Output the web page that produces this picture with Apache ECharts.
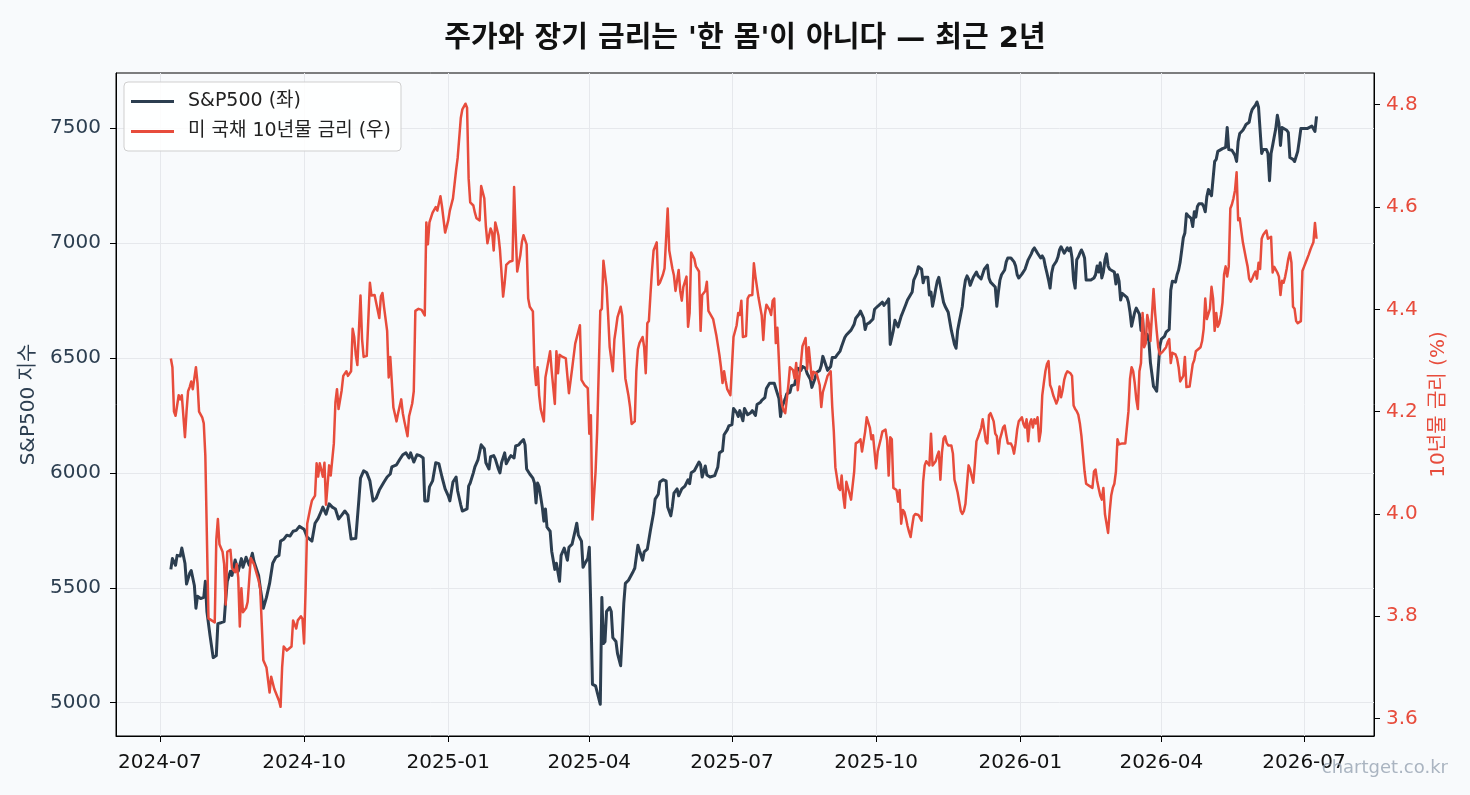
<!DOCTYPE html>
<html lang="ko">
<head>
<meta charset="utf-8">
<title>주가와 장기 금리</title>
<script src="https://cdn.jsdelivr.net/npm/echarts@6/dist/echarts.min.js"></script>
<style>
  html, body { margin: 0; padding: 0; background: #f8fafc; }
  #main { width: 1470px; height: 795px; }
</style>
</head>
<body>
<div id="main"></div>
<script>
// S&P500 종가 (읽은 값)
var spxDates = [
  '2024-07-08','2024-07-09','2024-07-11','2024-07-12','2024-07-14','2024-07-15','2024-07-17','2024-07-18','2024-07-20','2024-07-21','2024-07-23','2024-07-24','2024-07-25','2024-07-27','2024-07-29','2024-07-30','2024-07-31',
  '2024-08-02','2024-08-04','2024-08-06','2024-08-07','2024-08-09','2024-08-11','2024-08-12','2024-08-13','2024-08-15','2024-08-16','2024-08-18','2024-08-20','2024-08-22','2024-08-23','2024-08-25','2024-08-27','2024-08-29','2024-08-30',
  '2024-09-02','2024-09-03','2024-09-05','2024-09-07','2024-09-09','2024-09-11','2024-09-13','2024-09-15','2024-09-16','2024-09-18','2024-09-20','2024-09-22','2024-09-24','2024-09-26','2024-09-28',
  '2024-10-01','2024-10-03','2024-10-06','2024-10-08','2024-10-10','2024-10-12','2024-10-13','2024-10-15','2024-10-17','2024-10-19','2024-10-21','2024-10-23','2024-10-25','2024-10-27','2024-10-29','2024-10-31',
  '2024-11-01','2024-11-03','2024-11-05','2024-11-06','2024-11-08','2024-11-10','2024-11-12','2024-11-14','2024-11-16','2024-11-18','2024-11-21','2024-11-23','2024-11-25','2024-11-26','2024-11-29',
  '2024-12-01','2024-12-03','2024-12-05','2024-12-07','2024-12-08','2024-12-10','2024-12-12','2024-12-14','2024-12-16','2024-12-17','2024-12-19','2024-12-20','2024-12-22','2024-12-24','2024-12-26','2024-12-28','2024-12-30',
  '2025-01-01','2025-01-02','2025-01-04','2025-01-06','2025-01-07','2025-01-09','2025-01-10','2025-01-13','2025-01-14','2025-01-15','2025-01-17','2025-01-18','2025-01-20','2025-01-22','2025-01-24','2025-01-25','2025-01-27','2025-01-28','2025-01-30','2025-01-31',
  '2025-02-02','2025-02-03','2025-02-04','2025-02-06','2025-02-07','2025-02-09','2025-02-10','2025-02-12','2025-02-13','2025-02-15','2025-02-16','2025-02-18','2025-02-19','2025-02-20','2025-02-22','2025-02-24','2025-02-25','2025-02-26','2025-02-27','2025-02-28',
  '2025-03-02','2025-03-03','2025-03-04','2025-03-05','2025-03-07','2025-03-08','2025-03-10','2025-03-11','2025-03-13','2025-03-14','2025-03-16','2025-03-17','2025-03-18','2025-03-19','2025-03-21','2025-03-23','2025-03-24','2025-03-25','2025-03-27','2025-03-28','2025-03-29','2025-03-31',
  '2025-04-01','2025-04-02','2025-04-03','2025-04-05','2025-04-06','2025-04-08','2025-04-09','2025-04-10','2025-04-11','2025-04-12','2025-04-14','2025-04-15','2025-04-16','2025-04-18','2025-04-19','2025-04-21','2025-04-22','2025-04-23','2025-04-24','2025-04-26','2025-04-27','2025-04-29','2025-04-30',
  '2025-05-02','2025-05-03','2025-05-05','2025-05-06','2025-05-08','2025-05-09','2025-05-10','2025-05-12','2025-05-13','2025-05-15','2025-05-16','2025-05-18','2025-05-20','2025-05-21','2025-05-23','2025-05-24','2025-05-25','2025-05-27','2025-05-28','2025-05-30',
  '2025-06-01','2025-06-03','2025-06-04','2025-06-05','2025-06-07','2025-06-08','2025-06-10','2025-06-11','2025-06-12','2025-06-14','2025-06-15','2025-06-17','2025-06-18','2025-06-20','2025-06-22','2025-06-23','2025-06-25','2025-06-26','2025-06-28','2025-06-29',
  '2025-07-01','2025-07-02','2025-07-04','2025-07-05','2025-07-06','2025-07-08','2025-07-09','2025-07-11','2025-07-13','2025-07-14','2025-07-16','2025-07-17','2025-07-19','2025-07-20','2025-07-22','2025-07-23','2025-07-25','2025-07-26','2025-07-28','2025-07-29','2025-07-31',
  '2025-08-01','2025-08-02','2025-08-04','2025-08-05','2025-08-07','2025-08-08','2025-08-10','2025-08-11','2025-08-12','2025-08-14','2025-08-15','2025-08-17','2025-08-18','2025-08-20','2025-08-21','2025-08-23','2025-08-24','2025-08-26','2025-08-27','2025-08-28','2025-08-30','2025-08-31',
  '2025-09-02','2025-09-03','2025-09-05','2025-09-06','2025-09-08','2025-09-09','2025-09-11','2025-09-12','2025-09-13','2025-09-15','2025-09-16','2025-09-17','2025-09-18','2025-09-20','2025-09-21','2025-09-23','2025-09-24','2025-09-25','2025-09-27','2025-09-29','2025-09-30',
  '2025-10-02','2025-10-03','2025-10-05','2025-10-06','2025-10-08','2025-10-09','2025-10-10','2025-10-12','2025-10-13','2025-10-14','2025-10-15','2025-10-17','2025-10-18','2025-10-20','2025-10-21','2025-10-22','2025-10-24','2025-10-25','2025-10-27','2025-10-28','2025-10-30','2025-10-31',
  '2025-11-01','2025-11-02','2025-11-03','2025-11-04','2025-11-05','2025-11-06','2025-11-07','2025-11-08','2025-11-09','2025-11-10','2025-11-11','2025-11-13','2025-11-14','2025-11-16','2025-11-17','2025-11-18','2025-11-19','2025-11-20','2025-11-21','2025-11-22','2025-11-23','2025-11-24','2025-11-25','2025-11-26','2025-11-27','2025-11-28','2025-11-29','2025-11-30',
  '2025-12-02','2025-12-04','2025-12-05','2025-12-07','2025-12-08','2025-12-09','2025-12-11','2025-12-12','2025-12-13','2025-12-14','2025-12-16','2025-12-17','2025-12-18','2025-12-19','2025-12-20','2025-12-22','2025-12-23','2025-12-24','2025-12-26','2025-12-28','2025-12-29','2025-12-30','2025-12-31',
  '2026-01-02','2026-01-04','2026-01-06','2026-01-07','2026-01-08','2026-01-09','2026-01-10','2026-01-11','2026-01-12','2026-01-14','2026-01-15','2026-01-16','2026-01-17','2026-01-18','2026-01-19','2026-01-20','2026-01-21','2026-01-22','2026-01-24','2026-01-25','2026-01-26','2026-01-27','2026-01-29','2026-01-30','2026-01-31',
  '2026-02-01','2026-02-02','2026-02-03','2026-02-04','2026-02-05','2026-02-06','2026-02-07','2026-02-08','2026-02-09','2026-02-10','2026-02-11','2026-02-12','2026-02-13','2026-02-15','2026-02-17','2026-02-18','2026-02-19','2026-02-20','2026-02-21','2026-02-22','2026-02-23','2026-02-24','2026-02-25','2026-02-26','2026-02-27','2026-02-28',
  '2026-03-02','2026-03-03','2026-03-04','2026-03-05','2026-03-06','2026-03-07','2026-03-08','2026-03-10','2026-03-11','2026-03-12','2026-03-13','2026-03-14','2026-03-15','2026-03-16','2026-03-18','2026-03-19','2026-03-20','2026-03-21','2026-03-22','2026-03-23','2026-03-24','2026-03-25','2026-03-27','2026-03-28','2026-03-29','2026-03-30','2026-03-31',
  '2026-04-01','2026-04-03','2026-04-04','2026-04-06','2026-04-07','2026-04-08','2026-04-10','2026-04-11','2026-04-12','2026-04-13','2026-04-14','2026-04-15','2026-04-16','2026-04-17','2026-04-18','2026-04-19','2026-04-20','2026-04-21','2026-04-22','2026-04-23','2026-04-24','2026-04-25','2026-04-27','2026-04-28','2026-04-29','2026-04-30',
  '2026-05-01','2026-05-02','2026-05-03','2026-05-04','2026-05-05','2026-05-06','2026-05-07','2026-05-08','2026-05-10','2026-05-11','2026-05-12','2026-05-13','2026-05-14','2026-05-16','2026-05-17','2026-05-18','2026-05-19','2026-05-20','2026-05-21','2026-05-23','2026-05-24','2026-05-25','2026-05-27','2026-05-28','2026-05-29','2026-05-30','2026-05-31',
  '2026-06-01','2026-06-02','2026-06-03','2026-06-04','2026-06-05','2026-06-06','2026-06-07','2026-06-08','2026-06-09','2026-06-10','2026-06-11','2026-06-12','2026-06-13','2026-06-14','2026-06-15','2026-06-16','2026-06-17','2026-06-18','2026-06-20','2026-06-21','2026-06-22','2026-06-24','2026-06-25','2026-06-27','2026-06-28','2026-06-29',
  '2026-07-01','2026-07-02','2026-07-03','2026-07-04','2026-07-06','2026-07-07','2026-07-08','2026-07-09'
];
var spxValues = [
  5580,5627,5598,5641,5638,5673,5607,5516,5563,5575,5510,5411,5463,5453,5458,5528,5397,
  5292,5196,5205,5344,5348,5353,5449,5528,5572,5554,5621,5572,5627,5589,5633,5598,5650,5615,
  5554,5502,5411,5458,5519,5607,5633,5641,5703,5711,5729,5725,5746,5750,5767,
  5755,5720,5703,5781,5802,5834,5851,5820,5865,5851,5843,5799,5816,5834,5816,5712,
  5720,5715,5886,5977,6009,6000,5965,5878,5890,5925,5960,5982,5995,6026,6035,
  6058,6079,6087,6065,6087,6047,6079,6075,6065,5878,5878,5939,5965,6044,6040,5982,5930,
  5900,5878,5960,5982,5921,5860,5834,5843,5942,5956,6000,6026,6058,6122,6105,6044,6017,6070,6075,6061,
  6017,6000,6044,6087,6040,6065,6075,6065,6117,6122,6131,6145,6122,6017,5995,5977,5956,5869,5956,5939,
  5851,5790,5843,5764,5746,5659,5580,5607,5528,5641,5673,5680,5620,5676,5690,5750,5781,5729,5703,5589,5603,5627,
  5676,5400,5080,5073,5065,4993,5458,5257,5266,5397,5414,5397,5283,5266,5213,5161,5292,5432,5519,5533,5536,5571,5585,
  5685,5662,5620,5656,5668,5676,5750,5825,5886,5907,5960,5970,5965,5851,5813,5855,5912,5930,5900,5930,
  5942,5970,5953,6000,6009,6012,6047,6035,5982,6030,5991,5982,5974,5988,6026,6087,6096,6166,6187,6204,
  6210,6280,6262,6245,6271,6227,6280,6253,6262,6271,6250,6297,6306,6315,6327,6367,6390,6397,6390,6367,6323,
  6245,6288,6323,6344,6350,6379,6384,6376,6455,6446,6463,6455,6432,6407,6372,6411,6437,6446,6467,6507,6467,6446,
  6463,6502,6502,6512,6530,6551,6589,6600,6603,6621,6621,6647,6673,6690,6704,6673,6624,6647,6655,6670,6712,
  6725,6729,6743,6729,6746,6757,6559,6620,6664,6670,6635,6682,6699,6734,6752,6746,6787,6839,6869,6897,6886,6827,
  6851,6857,6851,6774,6787,6725,6760,6799,6834,6851,6857,6743,6725,6699,6659,6620,6617,6559,6542,6620,6656,6690,6725,6795,6839,6857,6844,6816,
  6851,6874,6857,6844,6839,6886,6904,6848,6830,6822,6809,6725,6787,6839,6862,6883,6918,6935,6935,6918,6900,6862,6848,
  6865,6886,6927,6927,6953,6970,6979,6967,6956,6935,6944,6932,6897,6869,6839,6804,6869,6900,6921,6939,6970,6984,6956,6949,6979,
  6967,6979,6935,6839,6804,6927,6939,6956,6970,6956,6935,6839,6834,6839,6848,6862,6900,6874,6914,6848,6874,6927,6953,6900,6886,6879,
  6874,6822,6862,6834,6752,6781,6778,6764,6743,6699,6638,6670,6699,6717,6690,6620,6673,6568,6577,6603,6577,6481,6376,6367,6355,6350,6551,
  6582,6594,6612,6624,6795,6834,6830,6862,6883,6918,6970,7023,7044,7128,7119,7113,7107,7072,7136,7113,7159,7171,7171,7159,7136,7201,
  7233,7219,7206,7212,7355,7364,7399,7407,7411,7411,7416,7503,7407,7404,7393,7381,7355,7442,7477,7491,7503,7516,7526,7561,7582,7591,7600,
  7614,7591,7591,7390,7407,7399,7407,7390,7271,7390,7425,7463,7498,7556,7521,7425,7503,7495,7491,7481,7372,7364,7355,7399,7446,7498,
  7498,7495,7498,7503,7509,7516,7486,7551
];

// 미 국채 10년물 금리 (%)
var yieldDates = [
  '2024-07-08','2024-07-09','2024-07-10','2024-07-11','2024-07-13','2024-07-14','2024-07-15','2024-07-17','2024-07-18','2024-07-19','2024-07-20','2024-07-21','2024-07-22','2024-07-24','2024-07-25','2024-07-26','2024-07-28','2024-07-29','2024-07-30',
  '2024-08-01','2024-08-03','2024-08-05','2024-08-06','2024-08-07','2024-08-08','2024-08-10','2024-08-11','2024-08-12','2024-08-13','2024-08-15','2024-08-16','2024-08-18','2024-08-19','2024-08-20','2024-08-21','2024-08-22','2024-08-23','2024-08-25','2024-08-26','2024-08-28','2024-08-30',
  '2024-09-02','2024-09-03','2024-09-05','2024-09-07','2024-09-09','2024-09-10','2024-09-12','2024-09-13','2024-09-15','2024-09-16','2024-09-17','2024-09-18','2024-09-20','2024-09-23','2024-09-24','2024-09-26','2024-09-27','2024-09-29','2024-09-30',
  '2024-10-01','2024-10-02','2024-10-03','2024-10-05','2024-10-06','2024-10-08','2024-10-09','2024-10-10','2024-10-11','2024-10-13','2024-10-14','2024-10-15','2024-10-17','2024-10-18','2024-10-20','2024-10-21','2024-10-22','2024-10-23','2024-10-25','2024-10-26','2024-10-28','2024-10-29','2024-10-31',
  '2024-11-01','2024-11-02','2024-11-03','2024-11-04','2024-11-06','2024-11-07','2024-11-08','2024-11-10','2024-11-12','2024-11-13','2024-11-15','2024-11-16','2024-11-18','2024-11-19','2024-11-20','2024-11-21','2024-11-23','2024-11-24','2024-11-25','2024-11-27','2024-11-29','2024-11-30',
  '2024-12-02','2024-12-03','2024-12-04','2024-12-06','2024-12-07','2024-12-09','2024-12-10','2024-12-11','2024-12-13','2024-12-15','2024-12-17','2024-12-18','2024-12-19','2024-12-20','2024-12-22','2024-12-24','2024-12-25','2024-12-27','2024-12-28','2024-12-30',
  '2025-01-01','2025-01-02','2025-01-04','2025-01-06','2025-01-07','2025-01-09','2025-01-10','2025-01-12','2025-01-13','2025-01-14','2025-01-15','2025-01-17','2025-01-18','2025-01-19','2025-01-21','2025-01-22','2025-01-24','2025-01-25','2025-01-26','2025-01-28','2025-01-29','2025-01-30','2025-01-31',
  '2025-02-01','2025-02-02','2025-02-03','2025-02-05','2025-02-06','2025-02-07','2025-02-09','2025-02-11','2025-02-12','2025-02-13','2025-02-14','2025-02-16','2025-02-17','2025-02-18','2025-02-20','2025-02-21','2025-02-22','2025-02-24','2025-02-25','2025-02-26','2025-02-27','2025-02-28',
  '2025-03-01','2025-03-03','2025-03-04','2025-03-06','2025-03-07','2025-03-08','2025-03-10','2025-03-11','2025-03-12','2025-03-13','2025-03-15','2025-03-17','2025-03-18','2025-03-19','2025-03-21','2025-03-23','2025-03-24','2025-03-26','2025-03-27','2025-03-29','2025-03-31',
  '2025-04-01','2025-04-02','2025-04-03','2025-04-05','2025-04-06','2025-04-08','2025-04-09','2025-04-10','2025-04-12','2025-04-13','2025-04-14','2025-04-16','2025-04-17','2025-04-18','2025-04-19','2025-04-21','2025-04-22','2025-04-24','2025-04-26','2025-04-27','2025-04-28','2025-04-30',
  '2025-05-01','2025-05-02','2025-05-03','2025-05-05','2025-05-06','2025-05-07','2025-05-08','2025-05-09','2025-05-10','2025-05-11','2025-05-12','2025-05-14','2025-05-15','2025-05-16','2025-05-18','2025-05-19','2025-05-21','2025-05-22','2025-05-24','2025-05-25','2025-05-26','2025-05-28','2025-05-29','2025-05-30','2025-05-31',
  '2025-06-02','2025-06-03','2025-06-04','2025-06-05','2025-06-07','2025-06-08','2025-06-10','2025-06-11','2025-06-12','2025-06-14','2025-06-15','2025-06-16','2025-06-17','2025-06-19','2025-06-21','2025-06-23','2025-06-24','2025-06-25','2025-06-26','2025-06-27','2025-06-28','2025-06-30',
  '2025-07-01','2025-07-02','2025-07-04','2025-07-05','2025-07-06','2025-07-07','2025-07-08','2025-07-10','2025-07-11','2025-07-12','2025-07-14','2025-07-15','2025-07-16','2025-07-17','2025-07-18','2025-07-20','2025-07-21','2025-07-22','2025-07-23','2025-07-25','2025-07-26','2025-07-27','2025-07-28','2025-07-29','2025-07-30','2025-07-31',
  '2025-08-01','2025-08-02','2025-08-03','2025-08-04','2025-08-05','2025-08-06','2025-08-07','2025-08-09','2025-08-10','2025-08-11','2025-08-12','2025-08-13','2025-08-14','2025-08-15','2025-08-16','2025-08-17','2025-08-18','2025-08-19','2025-08-20','2025-08-21','2025-08-22','2025-08-24','2025-08-25','2025-08-26','2025-08-27','2025-08-28','2025-08-30','2025-08-31',
  '2025-09-02','2025-09-03','2025-09-04','2025-09-05','2025-09-06','2025-09-07','2025-09-08','2025-09-09','2025-09-10','2025-09-11','2025-09-12','2025-09-13','2025-09-14','2025-09-15','2025-09-17','2025-09-18','2025-09-20','2025-09-21','2025-09-22','2025-09-24','2025-09-25','2025-09-27','2025-09-28','2025-09-29','2025-09-30',
  '2025-10-01','2025-10-02','2025-10-04','2025-10-05','2025-10-06','2025-10-07','2025-10-08','2025-10-09','2025-10-10','2025-10-11','2025-10-12','2025-10-13','2025-10-14','2025-10-15','2025-10-16','2025-10-17','2025-10-18','2025-10-19','2025-10-20','2025-10-21','2025-10-22','2025-10-23','2025-10-24','2025-10-25','2025-10-26','2025-10-28','2025-10-29','2025-10-30','2025-10-31',
  '2025-11-01','2025-11-02','2025-11-03','2025-11-04','2025-11-05','2025-11-06','2025-11-07','2025-11-08','2025-11-09','2025-11-10','2025-11-11','2025-11-12','2025-11-13','2025-11-14','2025-11-15','2025-11-16','2025-11-18','2025-11-19','2025-11-20','2025-11-21','2025-11-22','2025-11-24','2025-11-25','2025-11-26','2025-11-27','2025-11-28','2025-11-29','2025-11-30',
  '2025-12-02','2025-12-03','2025-12-04','2025-12-05','2025-12-07','2025-12-08','2025-12-09','2025-12-10','2025-12-11','2025-12-12','2025-12-13','2025-12-14','2025-12-15','2025-12-16','2025-12-17','2025-12-18','2025-12-19','2025-12-20','2025-12-21','2025-12-22','2025-12-23','2025-12-24','2025-12-26','2025-12-27','2025-12-28','2025-12-29','2025-12-30','2025-12-31',
  '2026-01-02','2026-01-03','2026-01-04','2026-01-05','2026-01-06','2026-01-07','2026-01-08','2026-01-09','2026-01-10','2026-01-11','2026-01-12','2026-01-13','2026-01-14','2026-01-15','2026-01-16','2026-01-17','2026-01-18','2026-01-19','2026-01-20','2026-01-21','2026-01-22','2026-01-23','2026-01-24','2026-01-25','2026-01-26','2026-01-27','2026-01-28','2026-01-29','2026-01-30','2026-01-31',
  '2026-02-02','2026-02-03','2026-02-04','2026-02-05','2026-02-06','2026-02-07','2026-02-08','2026-02-09','2026-02-10','2026-02-11','2026-02-12','2026-02-14','2026-02-15','2026-02-16','2026-02-17','2026-02-18','2026-02-19','2026-02-20','2026-02-21','2026-02-22','2026-02-23','2026-02-24','2026-02-26','2026-02-27','2026-02-28',
  '2026-03-01','2026-03-02','2026-03-03','2026-03-04','2026-03-05','2026-03-07','2026-03-08','2026-03-09','2026-03-11','2026-03-12','2026-03-13','2026-03-14','2026-03-15','2026-03-16','2026-03-17','2026-03-18','2026-03-19','2026-03-20','2026-03-21','2026-03-22','2026-03-23','2026-03-24','2026-03-25','2026-03-27','2026-03-28','2026-03-29','2026-03-30','2026-03-31',
  '2026-04-01','2026-04-02','2026-04-04','2026-04-05','2026-04-06','2026-04-07','2026-04-08','2026-04-09','2026-04-10','2026-04-11','2026-04-12','2026-04-13','2026-04-14','2026-04-15','2026-04-16','2026-04-17','2026-04-18','2026-04-19','2026-04-20','2026-04-21','2026-04-22','2026-04-23','2026-04-24','2026-04-26','2026-04-27','2026-04-28','2026-04-29','2026-04-30',
  '2026-05-01','2026-05-02','2026-05-03','2026-05-04','2026-05-05','2026-05-06','2026-05-07','2026-05-08','2026-05-09','2026-05-10','2026-05-11','2026-05-12','2026-05-13','2026-05-14','2026-05-15','2026-05-16','2026-05-17','2026-05-18','2026-05-19','2026-05-20','2026-05-21','2026-05-22','2026-05-23','2026-05-24','2026-05-25','2026-05-26','2026-05-27','2026-05-28','2026-05-29','2026-05-30','2026-05-31',
  '2026-06-01','2026-06-02','2026-06-03','2026-06-04','2026-06-05','2026-06-06','2026-06-07','2026-06-08','2026-06-10','2026-06-11','2026-06-12','2026-06-13','2026-06-14','2026-06-15','2026-06-16','2026-06-17','2026-06-18','2026-06-19','2026-06-20','2026-06-21','2026-06-22','2026-06-23','2026-06-24','2026-06-25','2026-06-26','2026-06-27','2026-06-28','2026-06-29','2026-06-30',
  '2026-07-01','2026-07-02','2026-07-03','2026-07-04','2026-07-05','2026-07-06','2026-07-07','2026-07-08','2026-07-09'
];
var yieldValues = [
  4.304,4.287,4.200,4.192,4.232,4.224,4.232,4.150,4.200,4.240,4.248,4.259,4.244,4.287,4.256,4.200,4.189,4.177,4.114,
  3.796,3.792,3.788,3.950,3.990,3.941,3.926,3.902,3.823,3.926,3.930,3.894,3.886,3.902,3.875,3.780,3.855,3.808,3.816,3.828,3.914,3.902,
  3.870,3.855,3.714,3.700,3.651,3.682,3.658,3.660,3.635,3.623,3.700,3.741,3.733,3.741,3.792,3.776,3.792,3.800,3.795,
  3.747,3.855,3.981,4.012,4.026,4.036,4.099,4.073,4.099,4.073,4.100,4.018,4.095,4.075,4.138,4.218,4.244,4.205,4.242,4.270,4.279,4.270,4.279,
  4.362,4.346,4.311,4.291,4.427,4.342,4.307,4.309,4.452,4.427,4.428,4.413,4.383,4.425,4.432,4.405,4.358,4.267,4.307,4.208,4.181,4.197,
  4.224,4.197,4.181,4.152,4.191,4.216,4.240,4.397,4.401,4.399,4.388,4.570,4.527,4.570,4.589,4.600,4.593,4.621,4.601,4.550,
  4.574,4.593,4.617,4.672,4.696,4.774,4.791,4.802,4.794,4.656,4.609,4.603,4.589,4.578,4.574,4.641,4.617,4.562,4.529,4.558,4.550,4.515,4.570,
  4.558,4.545,4.516,4.425,4.452,4.487,4.493,4.495,4.639,4.550,4.474,4.506,4.532,4.545,4.527,4.421,4.405,4.396,4.287,4.252,4.287,4.232,
  4.205,4.181,4.267,4.301,4.318,4.279,4.215,4.318,4.275,4.311,4.307,4.304,4.270,4.236,4.283,4.333,4.330,4.369,4.262,4.252,4.246,
  4.157,4.193,3.989,4.083,4.161,4.397,4.401,4.495,4.444,4.388,4.326,4.279,4.341,4.362,4.385,4.405,4.388,4.265,4.231,4.209,4.176,4.181,
  4.279,4.322,4.334,4.346,4.326,4.275,4.373,4.377,4.428,4.476,4.515,4.531,4.448,4.452,4.468,4.480,4.597,4.515,4.480,4.466,4.436,4.477,4.436,4.417,4.444,
  4.464,4.366,4.393,4.511,4.499,4.484,4.474,4.358,4.428,4.436,4.454,4.397,4.397,4.381,4.350,4.311,4.287,4.256,4.279,4.260,4.244,4.232,
  4.287,4.346,4.369,4.393,4.389,4.417,4.346,4.348,4.421,4.427,4.428,4.490,4.464,4.462,4.422,4.388,4.340,4.389,4.409,4.399,4.389,4.417,4.421,4.334,4.364,4.366,
  4.232,4.212,4.202,4.197,4.224,4.252,4.287,4.281,4.265,4.295,4.242,4.242,4.295,4.328,4.336,4.344,4.283,4.326,4.326,4.263,4.278,4.275,4.275,4.252,4.209,4.238,4.259,4.270,
  4.279,4.209,4.161,4.091,4.071,4.051,4.047,4.075,4.036,4.012,4.063,4.051,4.040,4.028,4.083,4.138,4.142,4.146,4.122,4.161,4.189,4.169,4.146,4.154,4.122,
  4.089,4.122,4.147,4.161,4.160,4.165,4.144,4.075,4.150,4.146,4.051,4.050,4.047,4.024,4.047,3.981,4.008,4.004,3.992,3.977,3.965,3.955,3.977,3.996,4.000,3.998,4.000,3.987,4.063,
  4.095,4.103,4.106,4.095,4.157,4.095,4.095,4.103,4.114,4.122,4.067,4.120,4.147,4.152,4.139,4.134,4.134,4.118,4.067,4.055,4.042,4.006,4.000,4.006,4.020,4.059,4.095,4.087,
  4.061,4.099,4.142,4.150,4.168,4.185,4.165,4.142,4.138,4.193,4.197,4.189,4.181,4.157,4.152,4.118,4.146,4.157,4.169,4.173,4.155,4.138,4.138,4.131,4.118,4.138,4.165,4.181,
  4.189,4.176,4.169,4.185,4.142,4.177,4.185,4.169,4.185,4.177,4.189,4.142,4.161,4.232,4.256,4.279,4.293,4.299,4.252,4.244,4.232,4.224,4.216,4.224,4.249,4.228,4.242,4.262,4.273,4.279,
  4.275,4.270,4.212,4.205,4.201,4.194,4.177,4.152,4.152,4.083,4.059,4.055,4.053,4.051,4.083,4.087,4.065,4.050,4.036,4.028,4.051,4.000,3.963,4.004,4.036,
  4.051,4.059,4.083,4.146,4.136,4.138,4.138,4.138,4.201,4.264,4.287,4.279,4.256,4.224,4.205,4.279,4.295,4.393,4.326,4.333,4.389,4.373,4.338,4.440,4.393,4.358,4.326,4.312,
  4.315,4.318,4.326,4.336,4.342,4.295,4.315,4.318,4.312,4.304,4.287,4.259,4.262,4.270,4.307,4.248,4.248,4.249,4.252,4.293,4.301,4.318,4.315,4.326,4.338,4.362,4.421,4.381,
  4.381,4.401,4.444,4.421,4.358,4.393,4.366,4.373,4.389,4.413,4.468,4.484,4.464,4.484,4.597,4.605,4.617,4.633,4.668,4.574,4.578,4.554,4.531,4.515,4.499,4.484,4.460,4.454,4.460,4.468,4.474,
  4.460,4.491,4.479,4.538,4.546,4.550,4.554,4.538,4.542,4.472,4.483,4.480,4.472,4.464,4.428,4.456,4.452,4.464,4.480,4.499,4.511,4.491,4.405,4.401,4.377,4.373,4.373,4.377,4.475,
  4.483,4.491,4.499,4.507,4.516,4.524,4.531,4.569,4.538
];

var xTickLabels = ['2024-07','2024-10','2025-01','2025-04','2025-07','2025-10','2026-01','2026-04','2026-07'];
var spxTicks = [5000, 5500, 6000, 6500, 7000, 7500];
var yieldTicks = [3.6, 3.8, 4.0, 4.2, 4.4, 4.6, 4.8];

var spxName = 'S&P500 (좌)';
var yieldName = '미 국채 10년물 금리 (우)';

if (spxDates.length !== spxValues.length || yieldDates.length !== yieldValues.length) {
  console.log('length mismatch', spxDates.length, spxValues.length, yieldDates.length, yieldValues.length);
}

// 라틴 문자는 DejaVu, 한글은 Noto CJK 로 떨어지게
var font = "'DejaVu Sans', 'Noto Sans CJK KR', sans-serif";
var toTime = function (s) { return echarts.number.parseDate(s).getTime(); };
var xTickValues = xTickLabels.map(function (s) { return toTime(s + '-01'); });

// 날짜는 타임스탬프로 바꿔 값 축에 올림
var spxData = spxDates.map(function (d, i) { return [toTime(d), spxValues[i]]; });
var yieldData = yieldDates.map(function (d, i) { return [toTime(d), yieldValues[i]]; });

var myChart = echarts.init(document.getElementById('main'));

var option = {
  backgroundColor: '#f8fafc',
  animation: false,
  textStyle: { fontFamily: font },
  title: {
    text: "주가와 장기 금리는 '한 몸'이 아니다 — 최근 2년",
    left: 745,
    top: 25,
    textAlign: 'center',
    padding: 0,
    textStyle: { fontSize: 29, fontWeight: 'bold', color: '#111', fontFamily: font }
  },
  legend: {
    orient: 'vertical',
    left: 124,
    top: 82,
    padding: [10, 10, 10, 7],
    itemGap: 11,
    itemWidth: 43,
    itemHeight: 3,
    icon: 'rect',
    backgroundColor: 'rgba(255,255,255,0.85)',
    borderColor: '#cfcfcf',
    borderWidth: 1,
    borderRadius: 4,
    textStyle: { fontSize: 19, color: '#222', fontFamily: font, padding: [0, 0, 0, 9] },
    data: [spxName, yieldName]
  },
  grid: {
    left: 116, right: 96, top: 73, bottom: 59,
    show: true, borderColor: '#000', borderWidth: 1,
    backgroundColor: 'rgba(0,0,0,0)',
    outerBoundsMode: 'none'
  },
  xAxis: {
    type: 'value',
    min: toTime('2024-06-03'),
    max: toTime('2026-08-14 16:00:00'),
    axisLine: { show: true, onZero: false, lineStyle: { color: '#000', width: 1 } },
    axisTick: { show: true, customValues: xTickValues, length: 6, lineStyle: { color: '#000' } },
    axisLabel: {
      customValues: xTickValues,
      color: '#111',
      fontSize: 20,
      margin: 17,
      hideOverlap: false,
      formatter: function (v) {
        var d = new Date(v);
        var m = d.getMonth() + 1;
        return d.getFullYear() + '-' + (m < 10 ? '0' + m : m);
      }
    },
    splitLine: { show: true, lineStyle: { color: '#e6e8ec', width: 1 } }
  },
  yAxis: [
    {
      type: 'value',
      position: 'left',
      min: 4855,
      max: 7740,
      name: 'S&P500 지수',
      nameLocation: 'middle',
      nameGap: 73,
      nameRotate: 90,
      nameTextStyle: { color: '#2c3e50', fontSize: 20, fontFamily: font },
      axisLine: { show: true, onZero: false, lineStyle: { color: '#000' } },
      axisTick: { show: true, customValues: spxTicks, length: 6, lineStyle: { color: '#000' } },
      axisLabel: {
        customValues: spxTicks, color: '#2c3e50', fontSize: 20, margin: 15,
        formatter: function (v) { return String(v); }
      },
      splitLine: { show: true, lineStyle: { color: '#e6e8ec', width: 1 } }
    },
    {
      type: 'value',
      position: 'right',
      min: 3.566,
      max: 4.862,
      name: '10년물 금리 (%)',
      nameLocation: 'middle',
      nameGap: 52,
      nameRotate: 90,
      nameTextStyle: { color: '#e74c3c', fontSize: 20, fontFamily: font },
      axisLine: { show: true, onZero: false, lineStyle: { color: '#000' } },
      axisTick: { show: true, customValues: yieldTicks, length: 6, lineStyle: { color: '#000' } },
      axisLabel: {
        customValues: yieldTicks, color: '#e74c3c', fontSize: 20, margin: 12,
        formatter: function (v) { return v.toFixed(1); }
      },
      splitLine: { show: false }
    }
  ],
  series: [
    {
      name: spxName,
      type: 'line',
      yAxisIndex: 0,
      data: spxData,
      symbol: 'none',
      lineStyle: { color: '#2c3e50', width: 3, join: 'round' },
      itemStyle: { color: '#2c3e50' },
      z: 2
    },
    {
      name: yieldName,
      type: 'line',
      yAxisIndex: 1,
      data: yieldData,
      symbol: 'none',
      lineStyle: { color: '#e74c3c', width: 2.5, join: 'round' },
      itemStyle: { color: '#e74c3c' },
      z: 3
    }
  ],
  graphic: [
    {
      type: 'text',
      right: 22,
      top: 759,
      z: 100,
      style: {
        text: 'chartget.co.kr',
        fill: 'rgba(150,162,178,0.8)',
        font: '18px ' + font
      }
    }
  ]
};

myChart.setOption(option);
</script>
</body>
</html>
